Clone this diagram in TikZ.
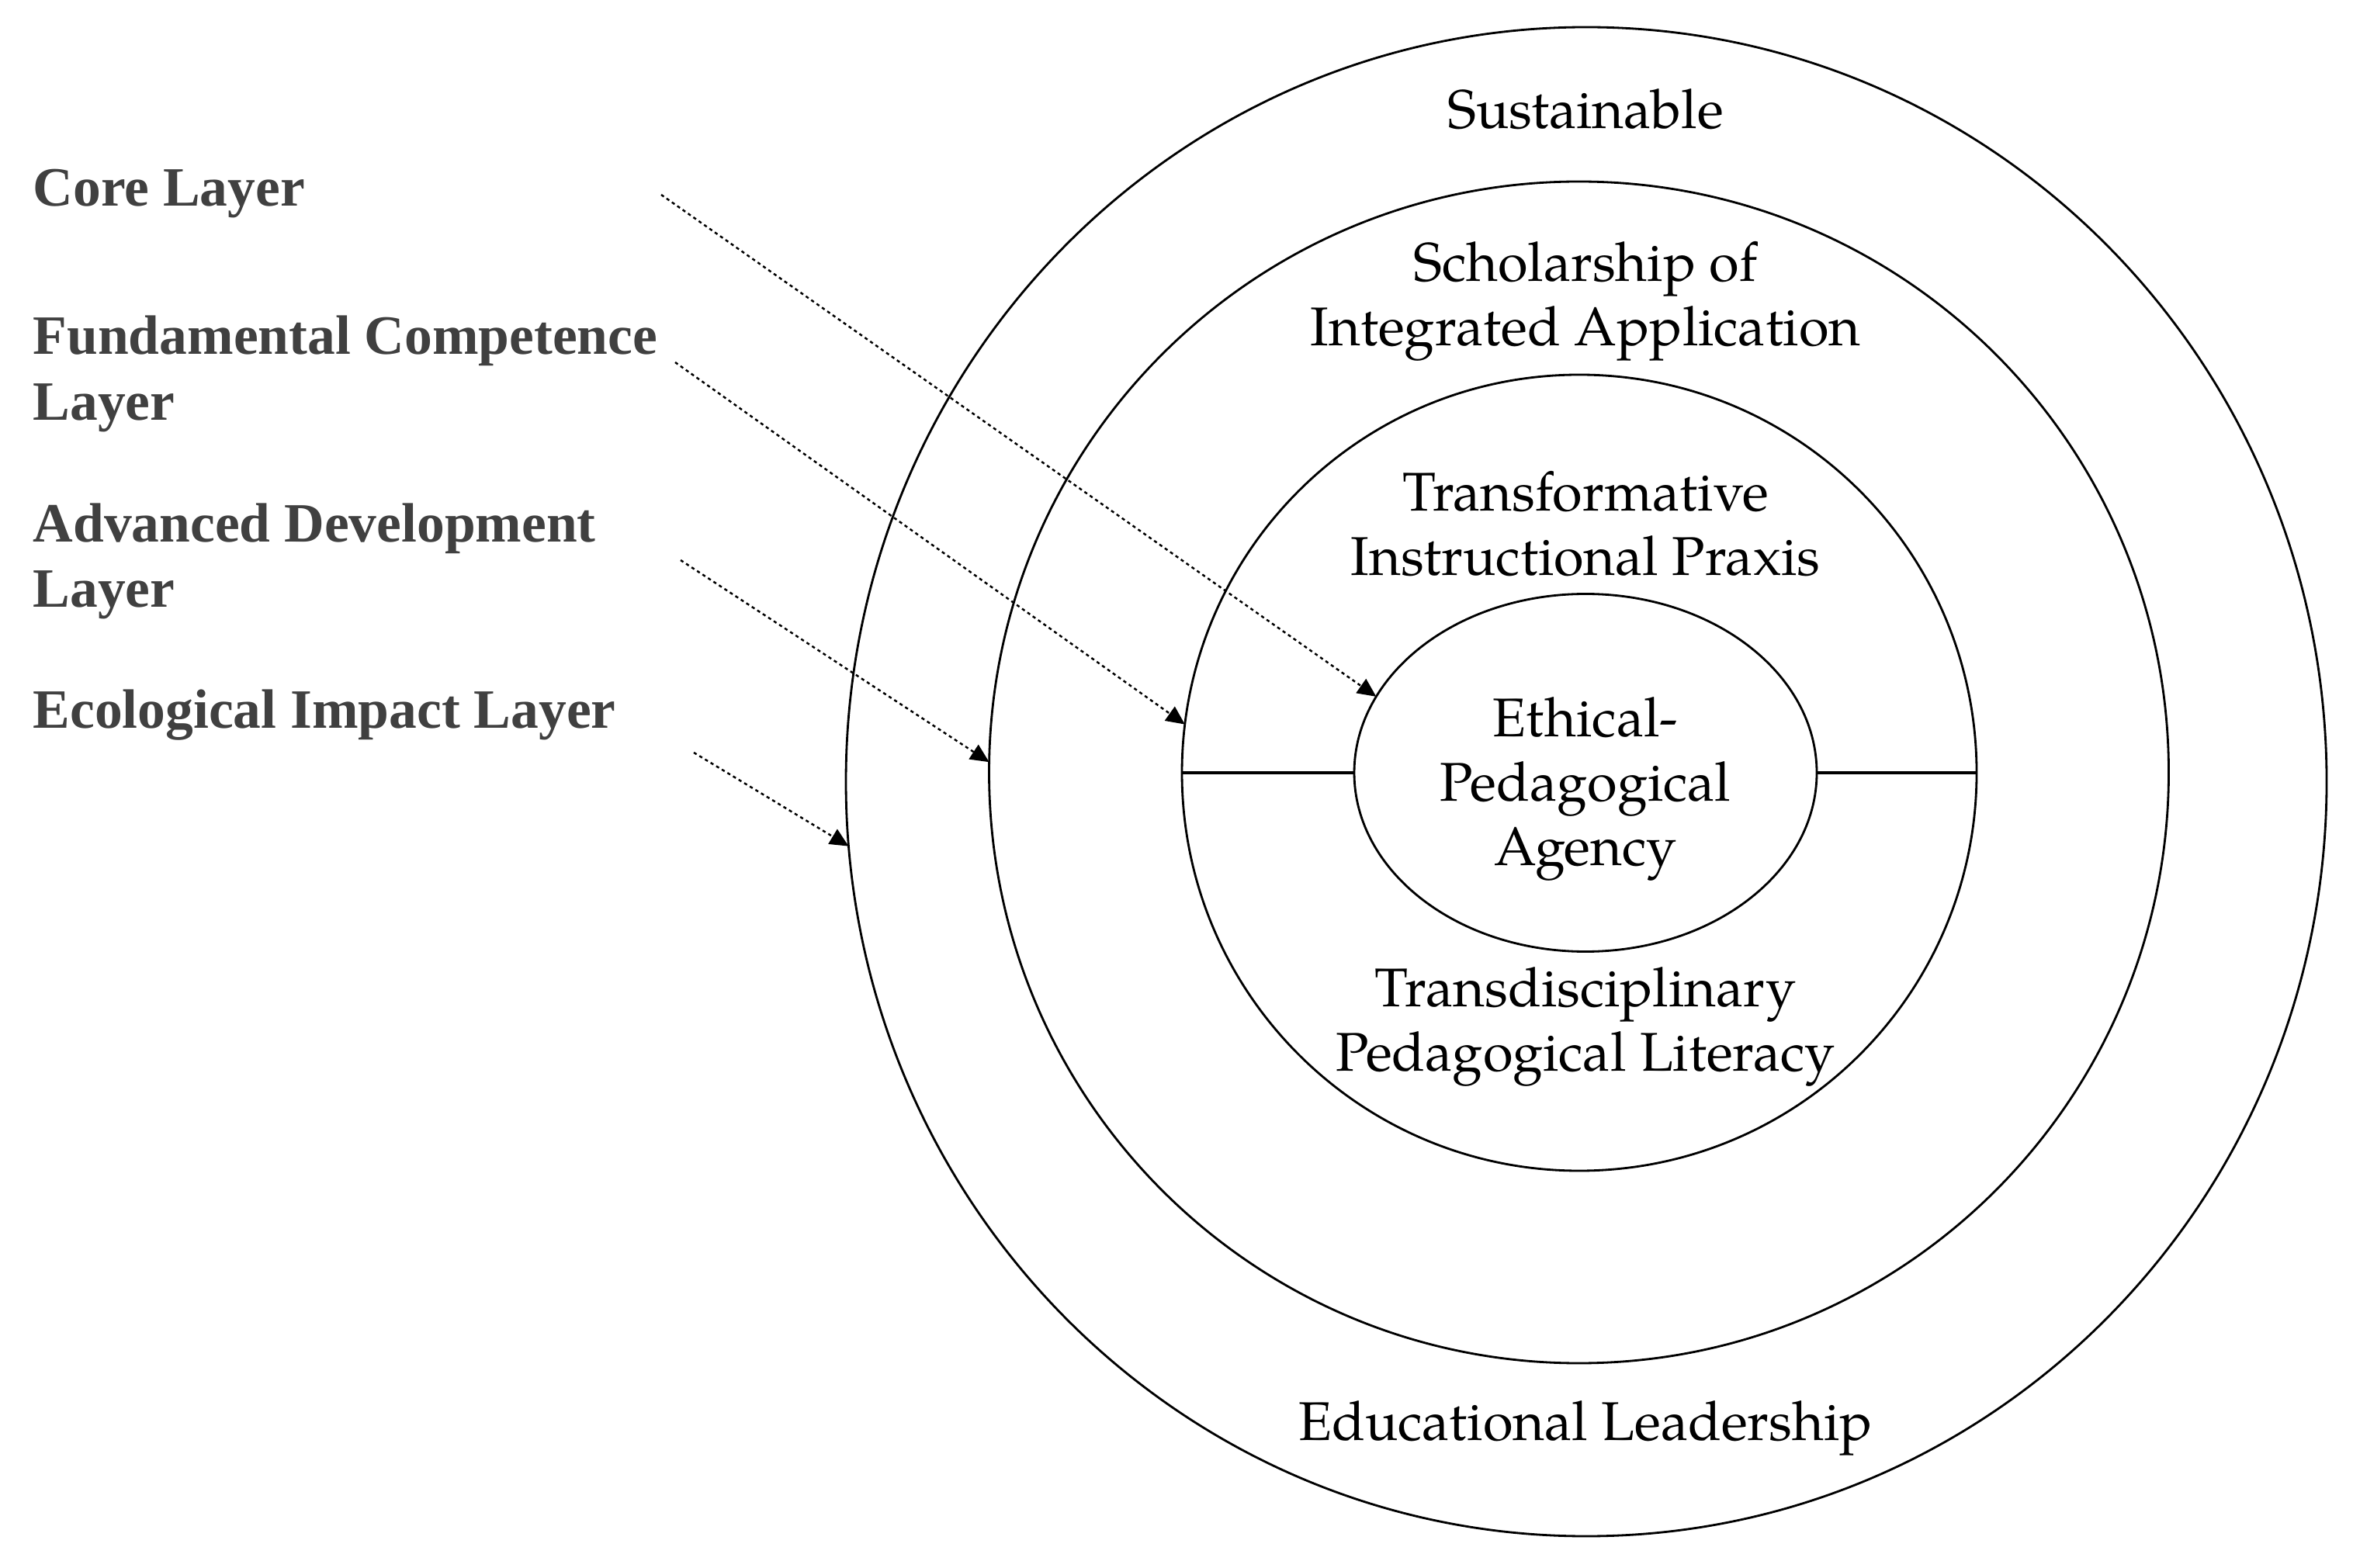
\documentclass[tikz,border=0pt]{standalone}
\usepackage{fontspec}
\setmainfont{texgyrepagella}[Extension=.otf, UprightFont=*-regular, BoldFont=*-bold, ItalicFont=*-italic, BoldItalicFont=*-bolditalic]
\newfontfamily\lblfont{Liberation Serif}
\usetikzlibrary{shapes.geometric, arrows.meta}

\tikzset{
  ring/.style={draw, ellipse, inner sep=0pt, outer sep=0pt, line width=0.8pt},
  ringtext/.style={align=center, inner sep=0pt, font=\fontsize{20}{23.6}\selectfont},
  layerlbl/.style={anchor=west, align=left, inner sep=0pt, text=black!75,
    font=\lblfont\bfseries\fontsize{20.35}{24}\selectfont},
  pointer/.style={-{Triangle[length=0.24cm, width=0.22cm]}, line width=0.7pt,
    dash pattern=on 1.2pt off 1.2pt}
}

\begin{document}
\begin{tikzpicture}
    \useasboundingbox (0,0) rectangle (30.32,20.20);

    % Rings
    \node[ring, minimum width=19.08cm, minimum height=19.45cm] (eco) at (20.44,10.125) {};
    \node[ring, minimum width=15.20cm, minimum height=15.23cm] (adv) at (20.345,10.245) {};
    \node[ring, minimum width=10.24cm, minimum height=10.26cm] (fund) at (20.35,10.24) {};
    \node[ring, minimum width=5.96cm, minimum height=4.61cm] (core) at (20.43,10.24) {};

    % Divider
    \draw[line width=1.2pt] (fund.west) -- (core.west);
    \draw[line width=1.2pt] (core.east) -- (fund.east);

    % Ring texts
    \node[ringtext] (sust) at (20.43,18.79) {Sustainable};
    \node[ringtext] (schol) at (20.43,16.32) {Scholarship of\\Integrated Application};
    \node[ringtext] (transf) at (20.43,13.445) {Transformative\\Instructional Praxis};
    \node[ringtext] (ethic) at (20.43,10.03) {Ethical-\\Pedagogical\\Agency};
    \node[ringtext] (transd) at (20.43,6.97) {Transdisciplinary\\Pedagogical Literacy};
    \node[ringtext] (lead) at (20.43,1.79) {Educational Leadership};

    % Layer labels
    \node[layerlbl] (corelbl) at (0.42,17.70) {Core Layer};
    \node[layerlbl] (fundlbl) at (0.42,15.38) {Fundamental Competence\\Layer};
    \node[layerlbl] (advlbl) at (0.42,12.965) {Advanced Development\\Layer};
    \node[layerlbl] (ecolbl) at (0.42,10.98) {Ecological Impact Layer};

    % Pointers
    \coordinate (corestart) at (8.52,17.69);
    \coordinate (fundstart) at (8.70,15.53);
    \coordinate (advstart) at (8.77,12.98);
    \coordinate (ecostart) at (8.94,10.50);
    \draw[pointer] (corestart) -- (core.160);
    \draw[pointer] (fundstart) -- (fund.173);
    \draw[pointer] (advstart) -- (adv.179);
    \draw[pointer] (ecostart) -- (eco.185.5);
\end{tikzpicture}
\end{document}
